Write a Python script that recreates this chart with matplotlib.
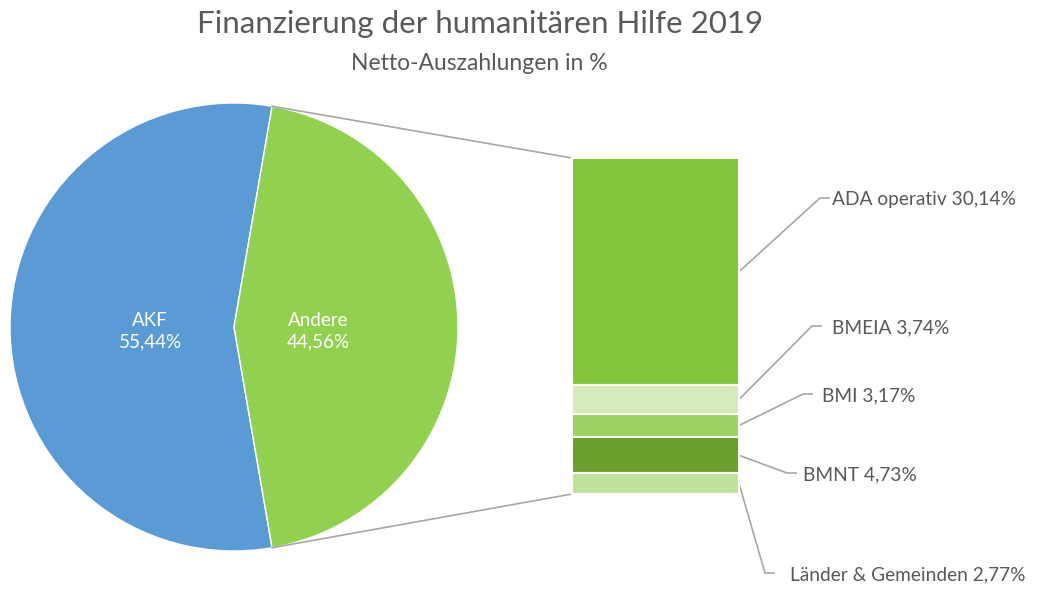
import numpy as np
import matplotlib
matplotlib.use('Agg')
import matplotlib.pyplot as plt

matplotlib.rcParams['font.family']=['Lato','DejaVu Sans']

# data
pieLabels=['AKF','Andere']
pieValues=[55.44,44.56]
pieColors=['#5B9BD5','#92D050']

barLabels=['ADA operativ','BMEIA','BMI','BMNT','Länder & Gemeinden']
barValues=[30.14,3.74,3.17,4.73,2.77]
barColors=['#82C43A','#D5EBBB','#9ED262','#6A9F2C','#C0E199']

title='Finanzierung der humanitären Hilfe 2019'
subtitle='Netto-Auszahlungen in %'

fmt=lambda v: '{:.2f}'.format(v).replace('.',',')
textGray='#595959'
lineGray='#A6A6A6'

W,H=1038,589
fig=plt.figure(figsize=(W/100,H/100),dpi=100)
ax=fig.add_axes([0,0,1,1])

# pie (Andere centered on the right side); y axis is inverted (pixel-like)
cx,cy,r=234,327,224
start=pieValues[1]/2*3.6
wedges,_=ax.pie(pieValues,colors=pieColors,startangle=start,center=(cx,cy),radius=r,
	wedgeprops=dict(edgecolor='white',linewidth=1),frame=True)
ax.set_xlim(0,W)
ax.set_ylim(H,0)
ax.set_aspect('equal')
ax.axis('off')
for w,lab,v in zip(wedges,pieLabels,pieValues):
	th=np.deg2rad((w.theta1+w.theta2)/2)
	d=0.375*r
	tx=cx+d*np.cos(th)
	ty=cy+d*np.sin(th)
	ax.text(tx,ty+4,lab+'\n'+fmt(v)+'%',ha='center',va='center',color='white',fontsize=13.5,linespacing=1.35)

# stacked bar of "Andere"
bx0,bx1=572,739
btop,bbot=158,494
scale=(bbot-btop)/sum(barValues)
heights=np.array(barValues)*scale
bottoms=btop+np.concatenate([[0],np.cumsum(heights)[:-1]])
ax.bar([(bx0+bx1)/2]*len(barValues),heights,bottom=bottoms,width=bx1-bx0,
	color=barColors,edgecolor='white',linewidth=1.5,zorder=3)

# connector lines pie -> bar (theta1 is visually at the top because y is inverted)
a1=np.deg2rad(wedges[1].theta1)
a2=np.deg2rad(wedges[1].theta2)
ax.plot([cx+r*np.cos(a1),bx0],[cy+r*np.sin(a1),btop],color=lineGray,lw=1.2,zorder=1)
ax.plot([cx+r*np.cos(a2),bx0],[cy+r*np.sin(a2),bbot],color=lineGray,lw=1.2,zorder=1)

# leader lines and labels
anchors=[(820,198),(812,326),(803,394),(787,473),(765,573)]
textX=[832,832,822,803,790]
for lab,v,h,b,(lx,ly),tx in zip(barLabels,barValues,heights,bottoms,anchors,textX):
	ym=b+h/2
	ax.plot([bx1,lx,lx+9],[ym,ly,ly],color=lineGray,lw=1.2,zorder=2)
	ax.text(tx,ly+2,'{:s} {:s}%'.format(lab,fmt(v)),ha='left',va='center',color=textGray,fontsize=13.8)

ax.text(480,24,title,ha='center',va='center',color=textGray,fontsize=22.5)
ax.text(479,63,subtitle,ha='center',va='center',color=textGray,fontsize=16.5)

fig.savefig('out.png',dpi=100)
